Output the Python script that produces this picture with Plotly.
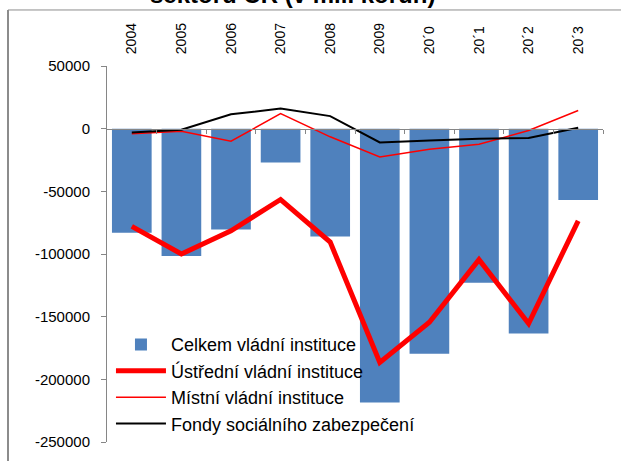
import plotly.graph_objects as go

years = ["2004", "2005", "2006", "2007", "2008", "2009", "2010", "2011", "2012", "2013"]
year_labels = ["2004", "2005", "2006", "2007", "2008", "2009", "20´0", "20´1", "20´2", "20´3"]
celkem = [-83000, -101500, -80500, -27000, -86000, -218500, -179500, -123000, -163500, -57000]
ustredni = [-78000, -100000, -81500, -56500, -90500, -186500, -154500, -104500, -155500, -73500]
mistni = [-4000, -2000, -10000, 12000, -6500, -22500, -16500, -12500, -1500, 14500]
fondy = [-3000, -800, 11500, 16000, 10000, -11000, -9500, -8000, -7500, 800]
y_ticks = [50000, 0, -50000, -100000, -150000, -200000, -250000]

FONT = "Liberation Sans, Arial, sans-serif"

fig = go.Figure()
fig.add_trace(go.Bar(x=years, y=celkem, name="Celkem vládní instituce",
                     marker=dict(color="#4F81BD", line=dict(width=0))))
fig.add_trace(go.Scatter(x=years, y=ustredni, name="Ústřední vládní instituce",
                         mode="lines", line=dict(color="#FF0000", width=5)))
fig.add_trace(go.Scatter(x=years, y=mistni, name="Místní vládní instituce",
                         mode="lines", line=dict(color="#FF0000", width=1.5)))
fig.add_trace(go.Scatter(x=years, y=fondy, name="Fondy sociálního zabezpečení",
                         mode="lines", line=dict(color="#000000", width=2)))
# helper trace so the zero-line axis is drawn
fig.add_trace(go.Scatter(x=[], y=[], xaxis="x2", showlegend=False, hoverinfo="skip"))

ymin, ymax = -250000, 50000
zero_pos = (0 - ymin) / (ymax - ymin)

fig.update_layout(
    width=621, height=461,
    margin=dict(l=107, r=18, t=66, b=19),
    paper_bgcolor="white", plot_bgcolor="white",
    font=dict(family=FONT, color="#000000"),
    bargap=0.2,
    showlegend=True,
    legend=dict(x=0.008, y=0.308, xanchor="left", yanchor="top",
                bgcolor="rgba(0,0,0,0)", font=dict(size=18, family=FONT),
                itemwidth=50, tracegroupgap=0, traceorder="normal"),
    xaxis=dict(type="category", categoryorder="array", categoryarray=years,
               tickmode="array", tickvals=years, ticktext=year_labels,
               side="top", tickangle=-90, showline=False, showgrid=False,
               zeroline=False, ticks="outside", ticklen=8, automargin=False,
               tickcolor="rgba(0,0,0,0)", tickfont=dict(size=14, family=FONT)),
    xaxis2=dict(overlaying="x", anchor="free", position=zero_pos, side="bottom",
                range=[-0.5, 9.5], tickmode="array",
                tickvals=[i + 0.5 for i in range(len(years))],
                ticks="outside", ticklen=4, tickcolor="#868686",
                showline=True, linecolor="#868686", linewidth=1,
                showticklabels=False, showgrid=False, zeroline=False),
    yaxis=dict(range=[ymin, ymax], tickmode="array", tickvals=y_ticks,
               ticktext=[str(v) for v in y_ticks], automargin=False,
               showline=True, linecolor="#868686", linewidth=1,
               ticks="outside", ticklen=5, tickcolor="#868686",
               ticklabelstandoff=8,
               showgrid=False, zeroline=False,
               tickfont=dict(size=15, family=FONT)),
    annotations=[dict(text="<b>sektoru ČR (v mil. korun)</b>", xref="paper", yref="paper",
                      x=0.374, y=1.148, xanchor="center", yanchor="bottom",
                      showarrow=False, font=dict(size=24, family=FONT, color="#000000"))],
    shapes=[
        dict(type="line", xref="paper", yref="paper", x0=-0.1996, x1=1.04, y0=1.149, y1=1.149,
             line=dict(color="#8C8C8C", width=1)),
        dict(type="line", xref="paper", yref="paper", x0=-0.1996, x1=-0.1996, y0=1.149, y1=-0.06,
             line=dict(color="#8C8C8C", width=2)),
    ],
)

fig.write_html("out.html", config={"displayModeBar": False},
               post_script="document.body.style.margin='0';")
